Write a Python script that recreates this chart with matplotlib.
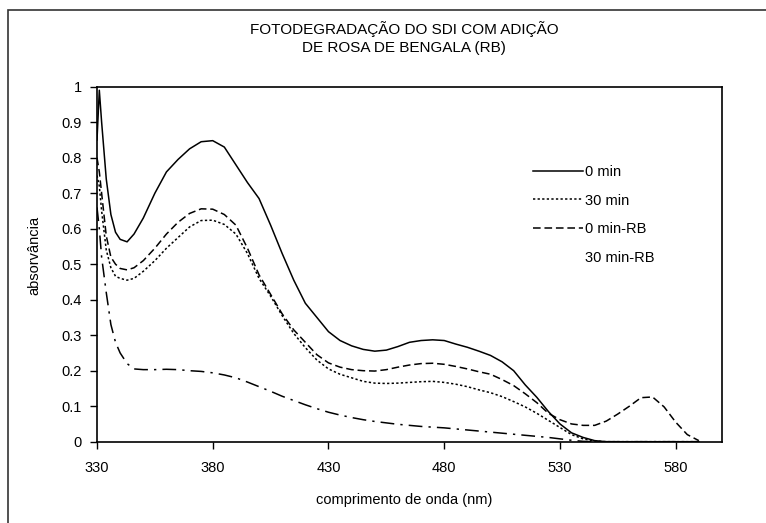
import matplotlib
matplotlib.use("Agg")
import matplotlib.pyplot as plt
from matplotlib.lines import Line2D
from matplotlib.patches import Rectangle

plt.rcParams['font.family'] = ['Liberation Sans', 'DejaVu Sans']

wavelength = [330, 331, 332, 334, 336, 338, 340, 343, 346, 350, 355, 360, 365, 370, 375,
              380, 385, 390, 395, 400, 405, 410, 415, 420, 425, 430, 435, 440, 445, 450,
              455, 460, 465, 470, 475, 480, 485, 490, 495, 500, 505, 510, 515, 520, 525,
              530, 535, 540, 545, 550, 555, 560, 565, 570, 575, 580, 585, 590]

abs_0min = [0.85, 0.99, 0.90, 0.74, 0.64, 0.59, 0.57, 0.563, 0.585, 0.63, 0.70, 0.76, 0.795, 0.825, 0.845,
            0.848, 0.83, 0.78, 0.73, 0.685, 0.61, 0.53, 0.455, 0.39, 0.35, 0.31, 0.285, 0.27, 0.26, 0.255,
            0.258, 0.268, 0.28, 0.285, 0.287, 0.285, 0.275, 0.266, 0.255, 0.243, 0.225, 0.20, 0.16, 0.125, 0.085,
            0.05, 0.025, 0.012, 0.003, 0.0, 0.0, 0.0, 0.0, 0.0, 0.0, 0.0, 0.0, 0.0]

abs_30min = [0.75, 0.72, 0.65, 0.54, 0.49, 0.466, 0.46, 0.455, 0.46, 0.48, 0.51, 0.545, 0.575, 0.605, 0.623,
             0.624, 0.612, 0.585, 0.53, 0.46, 0.41, 0.355, 0.305, 0.265, 0.23, 0.205, 0.19, 0.18, 0.17, 0.165,
             0.164, 0.165, 0.167, 0.169, 0.17, 0.167, 0.162, 0.155, 0.146, 0.138, 0.127, 0.113, 0.098, 0.08, 0.06,
             0.04, 0.02, 0.008, 0.002, 0.0, 0.0, 0.0, 0.0, 0.0, 0.0, 0.0, 0.0, 0.0]

abs_0min_rb = [0.80, 0.76, 0.70, 0.58, 0.52, 0.50, 0.488, 0.484, 0.49, 0.51, 0.545, 0.585, 0.618, 0.643, 0.656,
               0.655, 0.64, 0.61, 0.545, 0.47, 0.415, 0.36, 0.315, 0.28, 0.245, 0.222, 0.21, 0.203, 0.2, 0.199,
               0.203, 0.21, 0.216, 0.22, 0.221, 0.218, 0.212, 0.205, 0.197, 0.19, 0.175, 0.158, 0.135, 0.11, 0.08,
               0.062, 0.05, 0.046, 0.046, 0.058, 0.078, 0.10, 0.124, 0.126, 0.098, 0.055, 0.02, 0.003]

abs_30min_rb = [0.66, 0.60, 0.52, 0.42, 0.33, 0.28, 0.25, 0.22, 0.205, 0.203, 0.203, 0.204, 0.203, 0.20, 0.198,
                0.194, 0.188, 0.18, 0.168, 0.155, 0.142, 0.128, 0.116, 0.104, 0.093, 0.083, 0.075, 0.068, 0.062, 0.057,
                0.053, 0.049, 0.046, 0.043, 0.041, 0.039, 0.036, 0.033, 0.03, 0.027, 0.024, 0.021, 0.018, 0.015, 0.012,
                0.008, 0.004, 0.001, 0.0, 0.0, 0.0, 0.0, 0.0, 0.0, 0.0, 0.0, 0.0, 0.0]

series_labels = ['0 min', '30 min', '0 min-RB', '30 min-RB']
xtick_values = [330, 380, 430, 480, 530, 580]
ytick_values = [0, 0.1, 0.2, 0.3, 0.4, 0.5, 0.6, 0.7, 0.8, 0.9, 1]
ytick_labels = ['0', '0.1', '0.2', '0.3', '0.4', '0.5', '0.6', '0.7', '0.8', '0.9', '1']
title_text = 'FOTODEGRADAÇÃO DO SDI COM ADIÇÃO\nDE ROSA DE BENGALA (RB)'
xlabel_text = 'comprimento de onda (nm)'
ylabel_text = 'absorvância'

W, H = 766, 523
fig = plt.figure(figsize=(W / 100, H / 100), dpi=100)
fig.patch.set_facecolor('white')

# outer chart frame
fig.patches.append(Rectangle((8 / W, -0.1), 2.0, 1 - 10 / H + 0.1, transform=fig.transFigure,
                             fill=False, edgecolor='#333333', linewidth=1.2))

ax = fig.add_axes([97 / W, 1 - 441.7 / H, (722 - 97) / W, (441.7 - 86.7) / H])

lw = 1.1
l1, = ax.plot(wavelength, abs_0min, color='black', linewidth=lw, linestyle='-')
l2, = ax.plot(wavelength, abs_30min, color='black', linewidth=lw, linestyle=(0, (1.5, 1.5)))
l3, = ax.plot(wavelength, abs_0min_rb, color='black', linewidth=lw, linestyle=(0, (5, 2.5)))
l4, = ax.plot(wavelength, abs_30min_rb, color='black', linewidth=lw, linestyle=(0, (9, 4, 1.5, 4)))

ax.set_xlim(330, 600)
ax.set_ylim(0, 1)
ax.set_xticks(xtick_values)
ax.set_xticklabels([str(v) for v in xtick_values])
ax.set_yticks(ytick_values)
ax.set_yticklabels(ytick_labels)
ax.tick_params(direction='out', length=5, width=1, labelsize=10.5, colors='black', pad=6)
ax.tick_params(axis='x', pad=9)
for s in ax.spines.values():
    s.set_linewidth(1.2)
    s.set_color('black')

blank = Line2D([], [], linestyle='none')
leg = ax.legend([l1, l2, l3, blank], series_labels, loc='upper left',
                bbox_to_anchor=((533 - 97) / (722 - 97), 1 - (165 - 86.7) / (441.7 - 86.7)),
                frameon=False, fontsize=10.5, handlelength=3.4, handletextpad=0.15,
                labelspacing=1.0, borderaxespad=0, borderpad=0)

fig.text(404 / W, 1 - 38 / H, title_text, ha='center', va='center', fontsize=11,
         linespacing=1.4)
fig.text(404 / W, 1 - 500 / H, xlabel_text, ha='center', va='center', fontsize=10.5)
fig.text(34 / W, 1 - 255 / H, ylabel_text, ha='center', va='center', fontsize=10.5, rotation=90)

fig.savefig('out.png', dpi=100)
